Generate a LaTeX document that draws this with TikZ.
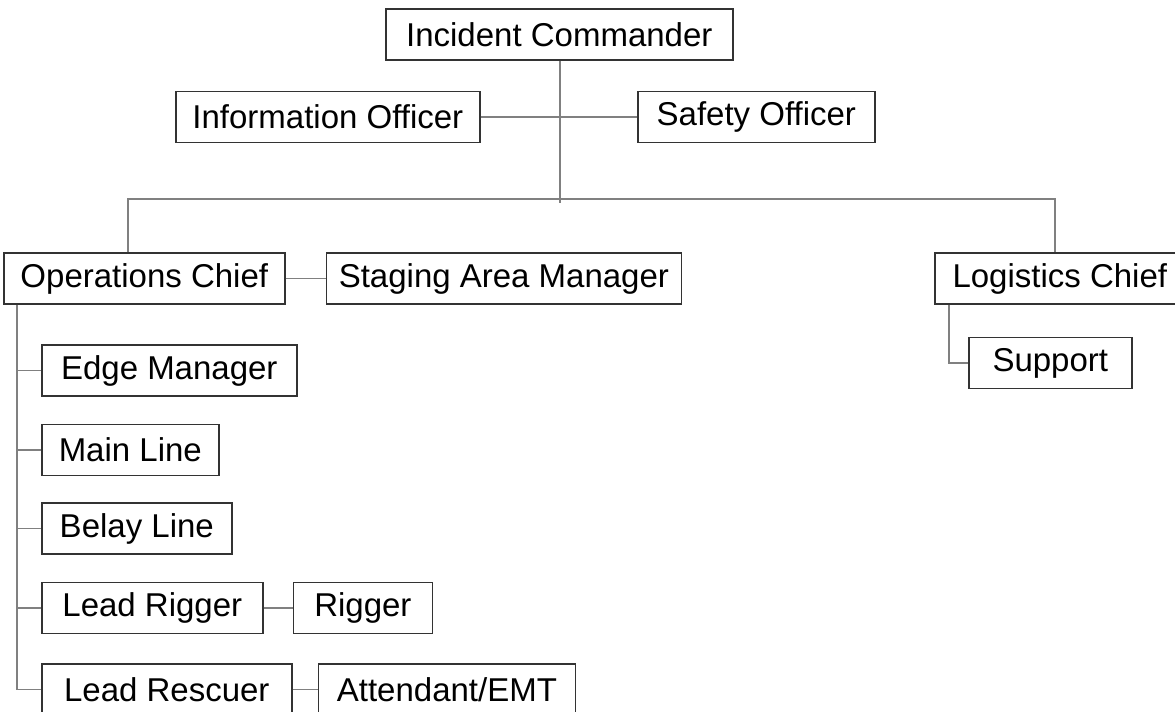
\documentclass[tikz,border=0pt]{standalone}
\usepackage{fontspec}
\setmainfont{Liberation Sans}
\usepackage{tikz}
\usetikzlibrary{positioning}

\begin{document}
\begin{tikzpicture}[
  x=0.5pt, y=-0.5pt,
  box/.style={rectangle, draw=black!80, line width=0.8pt,
              minimum width=#1, minimum height=25.5pt,
              inner xsep=6pt, inner ysep=0pt, anchor=west,
              font=\fontsize{16.5}{19}\selectfont},
  link/.style={draw=black!50, line width=0.8pt}
]
\useasboundingbox (0,0) rectangle (1175,712);
\clip (0,0) rectangle (1175,712);

% Nodes
\node[box=173.5pt] (ic)   at (385,34.5)  {Incident Commander};
\node[box=152pt]   (info) at (175,117)   {Information Officer};
\node[box=118.5pt] (safe) at (637,117)   {Safety Officer};
\node[box=140.5pt] (ops)  at (3,278.5)   {Operations Chief};
\node[box=177.5pt, right=20pt of ops] (stage) {Staging Area Manager};
\node[box=125pt]   (log)  at (934,278.5) {Logistics Chief};
\node[box=81.5pt]  (sup)  at (968,363)   {Support};
\node[box=127.5pt] (edge) at (41,370.5)  {Edge Manager};
\node[box=88.5pt]  (main) at (41,450)    {Main Line};
\node[box=95pt]    (belay) at (41,528.5) {Belay Line};
\node[box=110.5pt] (lrig) at (41,608)    {Lead Rigger};
\node[box=69.5pt, right=14.5pt of lrig] (rig) {Rigger};
\node[box=125pt]   (lres) at (41,689.5)  {Lead Rescuer};
\node[box=128.5pt, right=12.5pt of lres] (emt) {Attendant/EMT};

% Bus and spines
\coordinate (busL) at (128,199);
\coordinate (busR) at (1055,199);
\coordinate (opsx) at (17,0);
\coordinate (logx) at (949,0);

% Connectors
\draw[link] (ic.south -| 560,0) -- (560,203);
\draw[link] (info.east) -- (safe.west);
\draw[link] (busL |- ops.north) -- (busL) -- (busR) -- (busR |- log.north);
\draw[link] (ops.east) -- (stage.west);
\draw[link] (lrig.east) -- (rig.west);
\draw[link] (lres.east) -- (emt.west);
\draw[link] (opsx |- ops.south) -- (opsx |- lres.west);
\foreach \t in {edge, main, belay, lrig, lres}
  \draw[link] (opsx |- \t.west) -- (\t.west);
\draw[link] (logx |- log.south) -- (logx |- sup.west) -- (sup.west);

\end{tikzpicture}
\end{document}
